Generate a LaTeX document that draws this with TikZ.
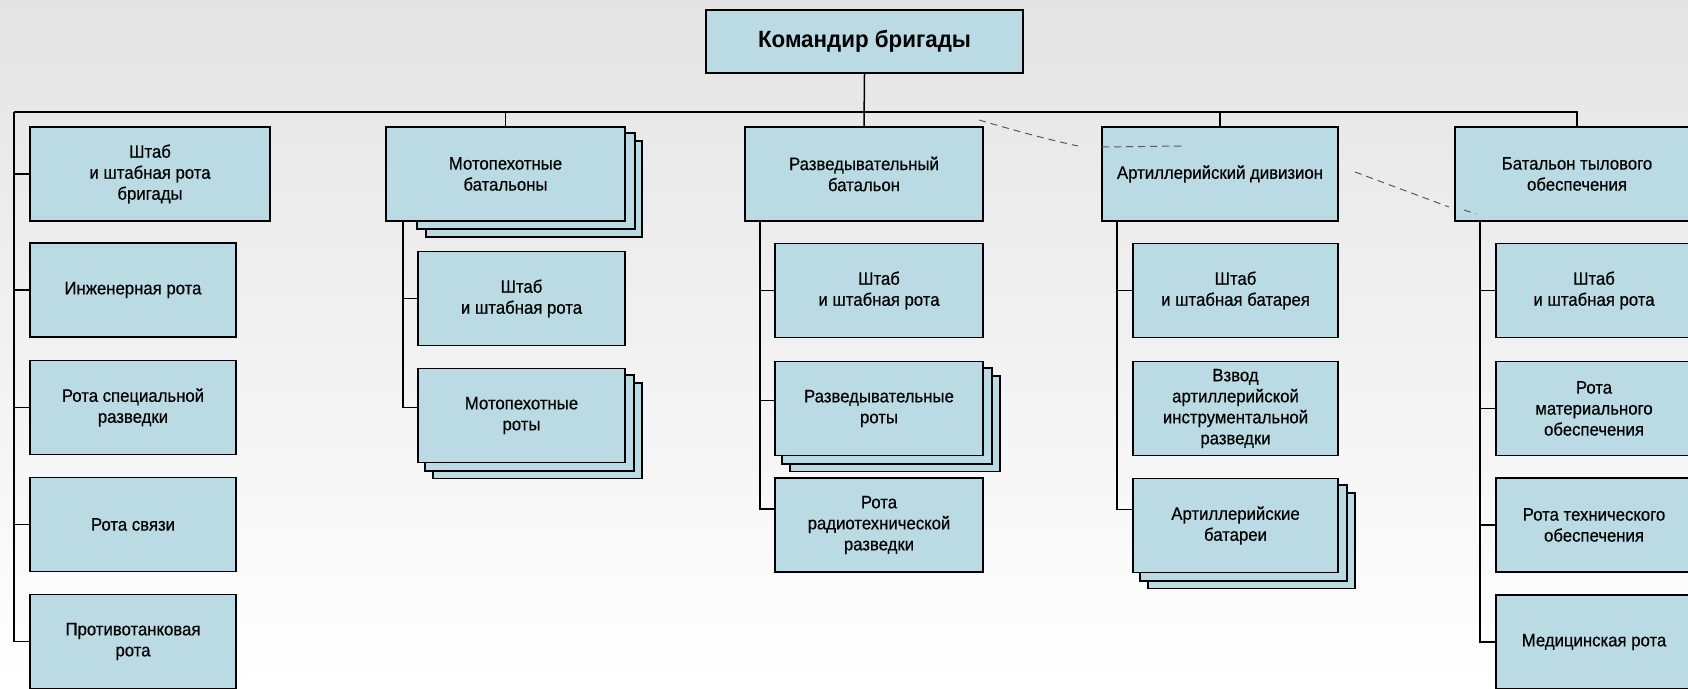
\documentclass[tikz,border=0pt]{standalone}
\usepackage{fontspec}
\newfontfamily\unitfont{Liberation Sans}[FakeStretch=0.93, FakeBold=0.5]
\newfontfamily\headfont{Liberation Sans}[FakeStretch=0.95]
\usetikzlibrary{calc}
\definecolor{unitfill}{RGB}{186,219,227}
\definecolor{papertop}{RGB}{228,228,228}
\definecolor{papermid}{RGB}{236,236,236}
\pgfdeclarelayer{paperlayer}
\pgfdeclarelayer{stack}
\pgfsetlayers{paperlayer,stack,main}

\begin{document}
\begin{tikzpicture}[x=1pt,y=-1pt,
  unit/.style={draw=black, line width=1.8pt, fill=unitfill, align=center,
    inner sep=2pt, minimum height=94pt,
    font=\unitfont\fontsize{18}{21}\selectfont},
  col1/.style={unit, minimum width=206pt},
  col2/.style={unit, minimum width=207pt},
  col3/.style={unit, minimum width=208pt},
  col4/.style={unit, minimum width=205pt},
  col5/.style={unit, minimum width=196pt},
  card/.style={draw=black, line width=1.8pt, fill=unitfill},
  link/.style={draw=black, line width=1.5pt},
  fold/.style={draw=black!65, line width=1pt, dash pattern=on 7pt off 5pt},
]
\useasboundingbox (0,0) rectangle (1688,688);
\clip (0,0) rectangle (1688,688);

% paper
\begin{pgfonlayer}{paperlayer}
  \shade[top color=papertop, middle color=papermid, bottom color=white]
    (0,0) rectangle (1688,688);
\end{pgfonlayer}

% brigade commander
\node[unit, minimum width=317pt, minimum height=63pt,
  font=\headfont\bfseries\fontsize{23.5}{27}\selectfont] (cmd) at (864.5,41.5) {Командир бригады};

% first column: units directly under the commander
\node[unit, minimum width=240pt] (s1) at (150,174) {Штаб\\и штабная рота\\бригады};
\node[col1] (s2) at (133,290) {Инженерная рота};
\node[col1] (s3) at (133,407.5) {Рота специальной\\разведки};
\node[col1] (s4) at (133,524.5) {Рота связи};
\node[col1] (s5) at (133,641.5) {Противотанковая\\рота};

% motorised infantry battalions
\node[unit, minimum width=239pt] (b2) at (505.5,174) {Мотопехотные\\батальоны};
\node[col2] (h2) at (521.5,298.5) {Штаб\\и штабная рота};
\node[col2] (m2) at (521.5,415.5) {Мотопехотные\\роты};

% reconnaissance battalion
\node[unit, minimum width=238pt] (b3) at (864,174) {Разведывательный\\батальон};
\node[col3] (h3) at (879,290.5) {Штаб\\и штабная рота};
\node[col3] (r3) at (879,408.5) {Разведывательные\\роты};
\node[col3] (t3) at (879,525) {Рота\\радиотехнической\\разведки};

% artillery battalion
\node[unit, minimum width=236pt] (b4) at (1220,174) {Артиллерийский дивизион};
\node[col4] (h4) at (1235.5,290.5) {Штаб\\и штабная батарея};
\node[col4] (v4) at (1235.5,408.5) {Взвод\\артиллерийской\\инструментальной\\разведки};
\node[col4] (a4) at (1235.5,525.5) {Артиллерийские\\батареи};

% support battalion
\node[unit, minimum width=244pt] (b5) at (1577,174) {Батальон тылового\\обеспечения};
\node[col5] (h5) at (1594,290.5) {Штаб\\и штабная рота};
\node[col5] (p5) at (1594,408.5) {Рота\\материального\\обеспечения};
\node[col5] (e5) at (1594,525) {Рота технического\\обеспечения};
\node[col5] (d5) at (1594,642) {Медицинская рота};

% stacked cards behind multi-unit boxes
\begin{pgfonlayer}{stack}
  \draw[card] ($(b2.north west)+(41,15)$) rectangle ($(b2.south east)+(16,15)$);
  \draw[card] ($(b2.north west)+(32,7)$) rectangle ($(b2.south east)+(9,7)$);
  \foreach \n in {m2,r3,a4} {
    \draw[card] ($(\n.north west)+(16,15)$) rectangle ($(\n.south east)+(16,15)$);
    \draw[card] ($(\n.north west)+(8,7.5)$) rectangle ($(\n.south east)+(8,7.5)$);
  }
\end{pgfonlayer}

% main bus
\coordinate (busL) at (14,112);
\draw[link] (cmd.south) -- (b3.north);
\draw[link] (busL) -| (b5.north);
\draw[link] (b2.north |- busL) -- (b2.north);
\draw[link] (b4.north |- busL) -- (b4.north);

% first column branches
\draw[link] (busL) |- (s5.west);
\foreach \n in {s1,s2,s3,s4}
  \draw[link] (\n.west -| busL) -- (\n.west);

% motorised infantry battalion branches
\coordinate (v2) at ([xshift=18pt]b2.south west);
\draw[link] (v2) |- ([yshift=8pt]m2.west);
\draw[link] (v2 |- h2.west) -- (h2.west);

% reconnaissance battalion branches
\coordinate (v3) at ([xshift=16pt]b3.south west);
\draw[link] (v3) |- ([yshift=16pt]t3.west);
\draw[link] (v3 |- h3.west) -- (h3.west);
\draw[link] (v3 |- r3.west) ++(0,-8) -- ([yshift=8pt]r3.west);

% artillery battalion branches
\coordinate (v4) at ([xshift=16pt]b4.south west);
\draw[link] (v4) |- ([yshift=16pt]a4.west);
\draw[link] (v4 |- h4.west) -- (h4.west);
\draw[link] ([yshift=8pt]v4 |- v4.west) -- ([yshift=8pt]v4.west);

% support battalion branches
\coordinate (v5) at ([xshift=26pt]b5.south west);
\draw[link] (v5) |- (d5.west);
\foreach \n in {h5,p5,e5}
  \draw[link] (v5 |- \n.west) -- (\n.west);

% fold marks across the sheet
\draw[fold] (979,120) .. controls (1020,132) and (1050,140) .. (1078,146);
\draw[fold] (1102,147) -- (1182,146);
\draw[fold] (1355,172) -- (1449,207);
\draw[fold] (1464,210) -- (1476,214);
\end{tikzpicture}
\end{document}
